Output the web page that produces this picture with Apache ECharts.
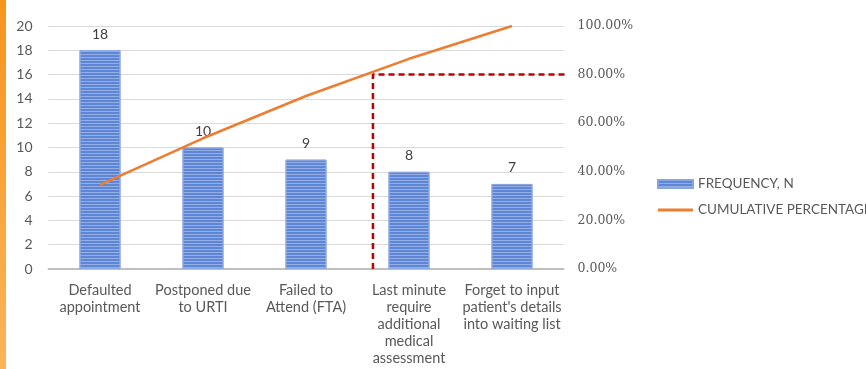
<!DOCTYPE html>
<html>
<head>
<meta charset="utf-8">
<script src="https://cdn.jsdelivr.net/npm/echarts@6/dist/echarts.min.js"></script>
<style>
  html, body { margin: 0; padding: 0; background: #fff; }
  #chart { width: 866px; height: 369px; }
</style>
</head>
<body>
<div id="chart"></div>
<script>
// categories and values
const categories = [
    'Defaulted\nappointment',
    'Postponed due\nto URTI',
    'Failed to\nAttend (FTA)',
    'Last minute\nrequire\nadditional\nmedical\nassessment',
    'Forget to input\npatient\'s details\ninto waiting list'
];
const frequency = [18, 10, 9, 8, 7];
const cumulativePct = [34.6, 53.8, 71.2, 86.5, 100];
// 80% cut-off line: [category position, percent]
const cutoffLine = [[2.65, 0], [2.65, 80], [4.66, 80]];

const font = 'Lato, "Open Sans", sans-serif';

const chart = echarts.init(document.getElementById('chart'));
chart.setOption({
    animation: false,
    graphic: [
        {
            type: 'rect',
            left: 0, top: 0,
            shape: { width: 6, height: 369 },
            style: {
                fill: new echarts.graphic.LinearGradient(0, 0, 0, 1, [
                    { offset: 0, color: '#F7941D' },
                    { offset: 1, color: '#FBB45A' }
                ])
            }
        }
    ],
    grid: { left: 48.5, right: 302.5, top: 26, bottom: 100 },
    legend: {
        orient: 'vertical',
        left: 652,
        top: 172,
        itemGap: 12,
        itemWidth: 35,
        itemHeight: 8,
        textStyle: { color: '#595959', fontSize: 13.5, fontFamily: font },
        data: [
            { name: 'FREQUENCY, N', icon: 'rect' },
            { name: 'CUMULATIVE PERCENTAGE', icon: 'path://M0,0L35,0L35,3L0,3Z' }
        ]
    },
    xAxis: [
        {
            type: 'category',
            data: categories,
            axisLine: { lineStyle: { color: '#bfbfbf', width: 2 } },
            axisTick: { show: false },
            axisLabel: {
                color: '#595959', fontSize: 14.5, fontFamily: font,
                lineHeight: 17, margin: 13, interval: 0
            }
        },
        {
            type: 'value',
            min: -0.5, max: 4.5,
            show: false
        }
    ],
    yAxis: [
        {
            type: 'value',
            min: 0, max: 20, interval: 2,
            axisLine: { show: false },
            axisTick: { show: false },
            splitLine: { lineStyle: { color: '#d9d9d9' } },
            axisLabel: { color: '#595959', fontSize: 14, fontFamily: font, margin: 16 }
        },
        {
            type: 'value',
            min: 0, max: 100, interval: 20,
            axisLine: { show: false },
            axisTick: { show: false },
            splitLine: { show: false },
            axisLabel: {
                color: '#595959', fontSize: 12.5, fontFamily: '"DejaVu Serif", serif',
                margin: 14,
                formatter: v => v.toFixed(2) + '%'
            }
        }
    ],
    series: [
        {
            name: 'FREQUENCY, N',
            type: 'bar',
            data: frequency,
            barWidth: 41,
            itemStyle: {
                color: '#5F86D4',
                borderColor: '#89A6E0',
                borderWidth: 1,
                decal: {
                    symbol: 'rect',
                    dashArrayX: [1, 0],
                    dashArrayY: [1, 2],
                    color: 'rgba(190, 208, 242, 0.55)'
                }
            },
            label: {
                show: true,
                position: 'top',
                distance: 9,
                color: '#404040',
                fontSize: 14,
                fontFamily: font
            }
        },
        {
            name: 'CUMULATIVE PERCENTAGE',
            type: 'line',
            yAxisIndex: 1,
            data: cumulativePct,
            showSymbol: false,
            symbol: 'none',
            lineStyle: { color: '#ED7D31', width: 2.5 },
            itemStyle: { color: '#ED7D31' }
        },
        {
            name: 'cutoff',
            type: 'line',
            xAxisIndex: 1,
            yAxisIndex: 1,
            data: cutoffLine,
            symbol: 'none',
            clip: false,
            lineStyle: { color: '#C00000', width: 2.5, type: [6, 4] },
            z: 5
        }
    ]
});
</script>
</body>
</html>
